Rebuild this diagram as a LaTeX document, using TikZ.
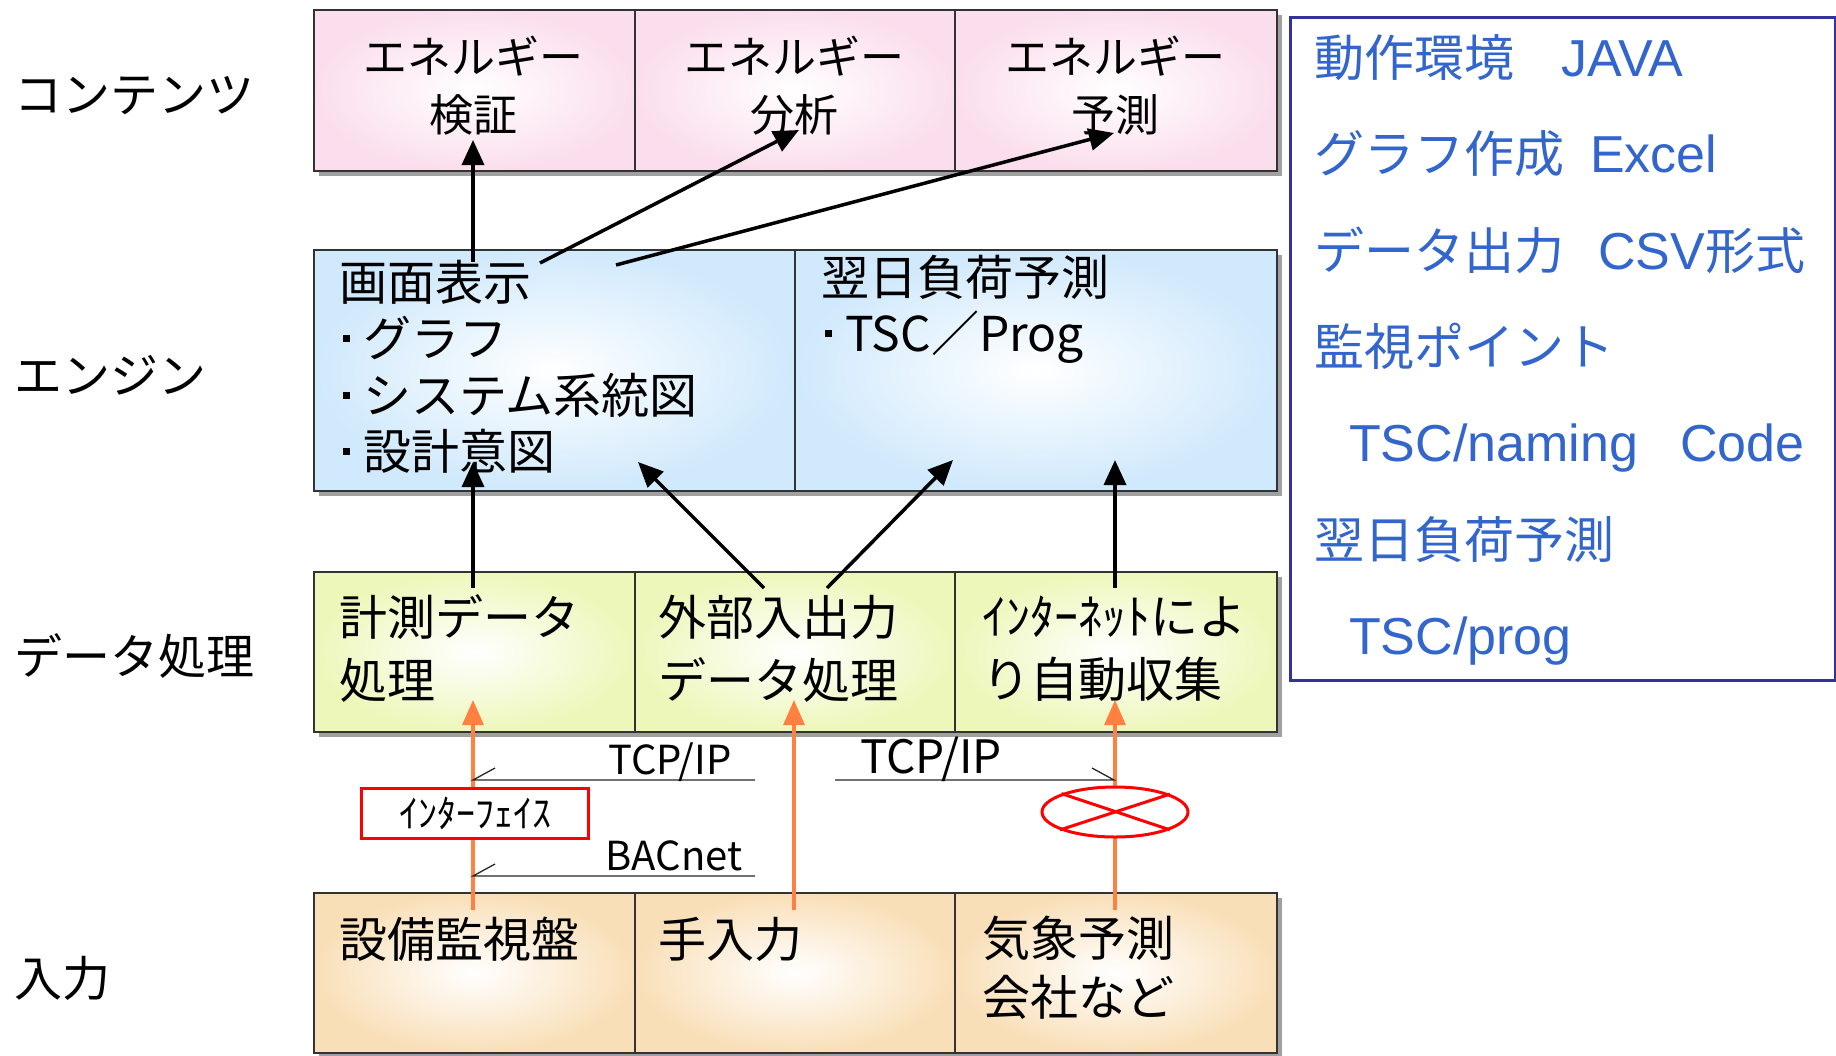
\documentclass[tikz,border=0pt]{standalone}
\usepackage{fontspec}
\setmainfont{Noto Sans CJK JP}
\newfontfamily\latf{Liberation Sans}
\usetikzlibrary{arrows.meta,shapes.geometric}
\newcommand\FS[2]{\fontsize{#1}{#2}\selectfont}
\newcommand\LT[1]{{\latf\fontsize{52}{96.3}\selectfont #1}}
\newcommand\BL{\makebox[24pt][l]{\hspace{4pt}\rule[14.5pt]{7pt}{7pt}}}
\definecolor{pinkc}{RGB}{251,222,237}
\definecolor{bluec}{RGB}{208,233,252}
\definecolor{yelc}{RGB}{237,247,186}
\definecolor{peachc}{RGB}{249,223,184}
\definecolor{infoblue}{RGB}{51,102,204}
\definecolor{infoborder}{RGB}{51,51,153}
\definecolor{orangec}{RGB}{255,128,64}
\definecolor{shadowc}{RGB}{160,160,160}
\begin{document}
\begin{tikzpicture}[x=1pt,y=-1pt,
  cell/.style={draw=black!80, line width=1.5pt, inner sep=0pt, anchor=north west, inner color=white, outer color=#1},
  txt/.style={inner sep=0pt, text=black},
  blackarrow/.style={line width=3.5pt, draw=black, -{Triangle[length=25pt,width=22pt]}},
  orangearrow/.style={line width=3.2pt, draw=orangec, -{Triangle[length=25pt,width=21pt]}},
  proto/.style={line width=1.3pt, draw=black!85},
  sidelabel/.style={inner sep=0pt, anchor=west, font=\FS{48}{48}}
]
\useasboundingbox (0,0) rectangle (1836,1055);
% shadows
\fill[shadowc] (319,15) rectangle (1282,176);
\fill[shadowc] (319,255) rectangle (1282,496);
\fill[shadowc] (319,577) rectangle (1282,737);
\fill[shadowc] (319,898) rectangle (1282,1058);
% content row
\node[cell=pinkc, minimum width=321pt, minimum height=161pt] (c11) at (313,9) {};
\node[cell=pinkc, minimum width=320pt, minimum height=161pt] (c12) at (634,9) {};
\node[cell=pinkc, minimum width=322pt, minimum height=161pt] (c13) at (954,9) {};
% engine row
\node[cell=bluec, minimum width=481pt, minimum height=241pt] (c21) at (313,249) {};
\node[cell=bluec, minimum width=482pt, minimum height=241pt] (c22) at (794,249) {};
% data row
\node[cell=yelc, minimum width=321pt, minimum height=160pt] (c31) at (313,571) {};
\node[cell=yelc, minimum width=320pt, minimum height=160pt] (c32) at (634,571) {};
\node[cell=yelc, minimum width=322pt, minimum height=160pt] (c33) at (954,571) {};
% input row
\node[cell=peachc, minimum width=321pt, minimum height=160pt] (c41) at (313,892) {};
\node[cell=peachc, minimum width=320pt, minimum height=160pt] (c42) at (634,892) {};
\node[cell=peachc, minimum width=322pt, minimum height=160pt] (c43) at (954,892) {};
% texts in cells
\node[txt, font=\FS{44}{58}, align=center] (t11) at (473,86) {エネルギー\\検証};
\node[txt, font=\FS{44}{58}, align=center] (t12) at (794,86) {エネルギー\\分析};
\node[txt, font=\FS{44}{58}, align=center] (t13) at (1115,86) {エネルギー\\予測};
\node[txt, anchor=west, font=\FS{48}{56.5}, align=left] (t21) at (339,367) {画面表示\\\BL グラフ\\\BL システム系統図\\\BL 設計意図};
\node[txt, anchor=west, font=\FS{48}{56}, align=left] (t22) at (821,309) {翌日負荷予測\\\BL TSC／Prog};
\node[txt, anchor=west, font=\FS{48}{63}, align=left] (t31) at (339,649) {計測データ\\処理};
\node[txt, anchor=west, font=\FS{48}{63}, align=left] (t32) at (658,649) {外部入出力\\データ処理};
\node[txt, anchor=west, font=\FS{48}{63}, align=left] (t33) at (982,649) {ｲﾝﾀｰﾈｯﾄによ\\り自動収集};
\node[txt, anchor=west, font=\FS{48}{48}] (t41) at (339,939) {設備監視盤};
\node[txt, anchor=west, font=\FS{48}{48}] (t42) at (658,939) {手入力};
\node[txt, anchor=west, font=\FS{48}{59}, align=left] (t43) at (982,968) {気象予測\\会社など};
% side labels
\node[sidelabel] (l1) at (14,96) {コンテンツ};
\node[sidelabel] (l2) at (14,375) {エンジン};
\node[sidelabel] (l3) at (14,656) {データ処理};
\node[sidelabel] (l4) at (14,978) {入力};
% info box
\node[draw=infoborder, line width=3pt, minimum width=545pt, minimum height=663pt, anchor=north west, inner sep=0pt] (info) at (1289,16) {};
\node[inner sep=0pt, anchor=west, text=infoblue, font=\FS{50}{96.3}, align=left] (infotxt) at (1314,350)
 {\makebox[247pt][l]{動作環境}\LT{JAVA}\\
  \makebox[276pt][l]{グラフ作成}\LT{Excel}\\
  \makebox[284pt][l]{データ出力}\LT{CSV}形式\\
  監視ポイント\\
  \hspace*{35pt}\makebox[331pt][l]{\LT{TSC/naming}}\LT{Code}\\
  翌日負荷予測\\
  \hspace*{35pt}\LT{TSC/prog}};
% orange arrows
\coordinate (o1s) at (473,910); \coordinate (o1e) at (473,700);
\coordinate (o2s) at (794,910); \coordinate (o2e) at (794,700);
\coordinate (o3s) at (1115,910); \coordinate (o3e) at (1115,700);
\draw[orangearrow] (o1s) -- (o1e);
\draw[orangearrow] (o2s) -- (o2e);
\draw[orangearrow] (o3s) -- (o3e);
% protocol lines
\coordinate (pl1a) at (755,780); \coordinate (pl1b) at (473,780);
\coordinate (pl2a) at (755,876); \coordinate (pl2b) at (473,876);
\coordinate (pl3a) at (835,780); \coordinate (pl3b) at (1114,780);
\draw[proto] (pl1a) -- (pl1b) -- ++(22,-12);
\draw[proto] (pl2a) -- (pl2b) -- ++(22,-12);
\draw[proto] (pl3a) -- (pl3b) -- ++(-22,-12);
\node[txt, font=\FS{40}{40}] (tcp1) at (670,762) {TCP/IP};
\node[txt, font=\FS{40}{40}] (bac) at (674,856) {BACnet};
\node[txt, font=\FS{46}{46}] (tcp2) at (931,759) {TCP/IP};
% interface box and blocked ellipse
\node[draw=red, line width=3pt, fill=white, minimum width=227pt, minimum height=50pt, anchor=north west, inner sep=0pt, font=\FS{38}{38}] (ifbox) at (360,787) {ｲﾝﾀｰﾌｪｲｽ};
\node[draw=red, line width=3pt, fill=white, ellipse, minimum width=146pt, minimum height=50pt, inner sep=0pt] (blockx) at (1115,812) {};
\draw[red, line width=3pt] (blockx.161.6) -- (blockx.-18.4);
\draw[red, line width=3pt] (blockx.18.4) -- (blockx.198.4);
% black arrows
\coordinate (a1s) at (473,262); \coordinate (a1e) at (473,140);
\coordinate (a2s) at (540,263); \coordinate (a2e) at (799,130);
\coordinate (a3s) at (616,265); \coordinate (a3e) at (1114,133);
\coordinate (a4s) at (473,588); \coordinate (a4e) at (473,462);
\coordinate (a5s) at (764,588); \coordinate (a5e) at (638,462);
\coordinate (a6s) at (827,588); \coordinate (a6e) at (953,460);
\coordinate (a7s) at (1115,588); \coordinate (a7e) at (1115,460);
\draw[blackarrow] (a1s) -- (a1e);
\draw[blackarrow] (a2s) -- (a2e);
\draw[blackarrow] (a3s) -- (a3e);
\draw[blackarrow] (a4s) -- (a4e);
\draw[blackarrow] (a5s) -- (a5e);
\draw[blackarrow] (a6s) -- (a6e);
\draw[blackarrow] (a7s) -- (a7e);
\end{tikzpicture}
\end{document}
